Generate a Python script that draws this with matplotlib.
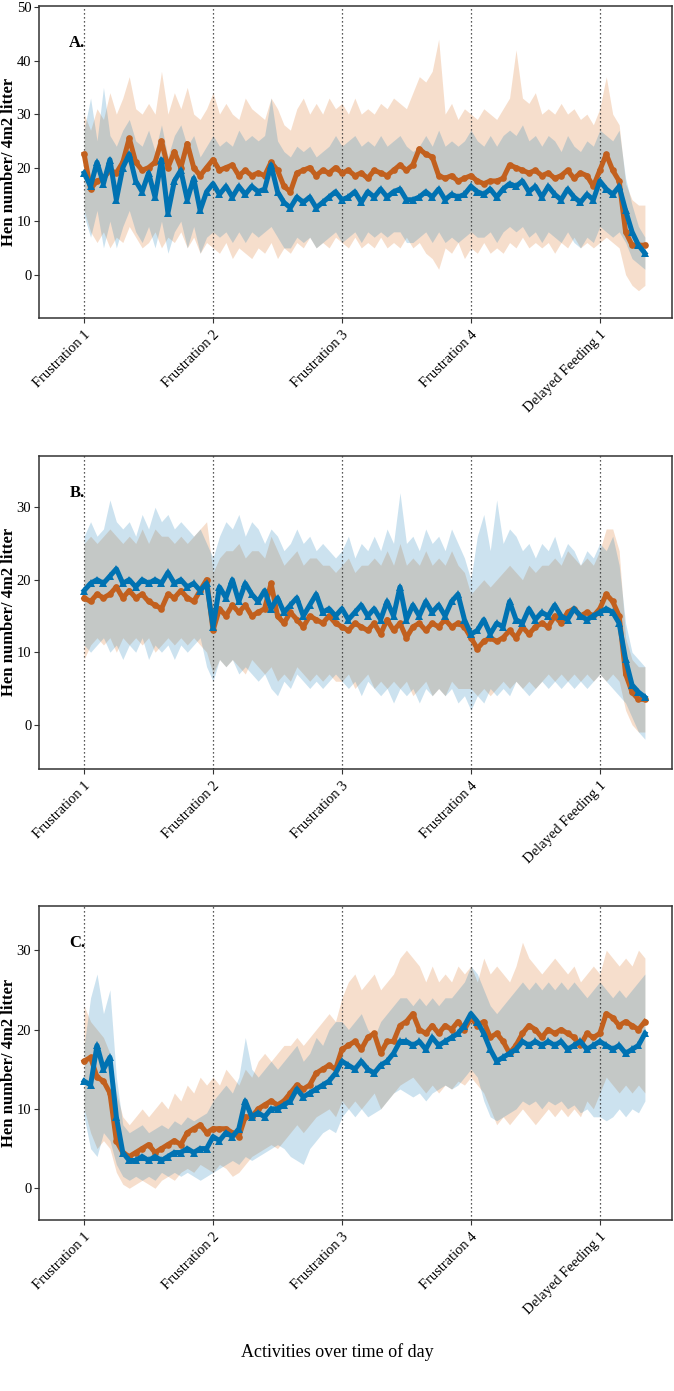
import numpy as np
import matplotlib
matplotlib.use("Agg")
import matplotlib.pyplot as plt

plt.rcParams['font.family'] = ['Liberation Serif', 'DejaVu Serif']

# ---------------- data ----------------
categories = ["Frustration 1", "Frustration 2", "Frustration 3", "Frustration 4", "Delayed Feeding 1"]
time_step = 0.05  # spacing of the sampled readings (in activity units)

# Panel A
A_or_mean = [22.5, 16, 17.5, 18, 19.5, 19, 21, 25.5, 21, 19.5, 20, 21, 25, 20, 23, 20, 24.5, 20, 18.5, 20,
             21.5, 19.5, 20, 20.5, 18.5, 19.5, 18.5, 19, 18.5, 21, 19.5, 16.5, 15.5, 19, 19.5, 20, 18.5, 19.5, 19, 20,
             19, 19.5, 18.5, 19, 18, 19.5, 19, 18.5, 19.5, 20.5, 19.5, 20.5, 23.5, 22.5, 22, 18.5, 18, 18.5, 17.5, 18,
             18.5, 17.5, 17, 17.5, 17.5, 18, 20.5, 20, 19.5, 19, 19.5, 18.5, 19, 18, 18.5, 19.5, 18, 19, 18.5, 16.5,
             19.5, 22.5, 19.5, 17.5, 8, 5.5, 5.5, 5.5]
A_or_lo = [12, 8, 6, 8, 5, 7, 6, 9, 7, 5, 6, 8, 5, 7, 6, 8, 5, 7, 4, 6,
           5, 4, 6, 3, 5, 4, 3, 5, 4, 6, 3, 5, 4, 6, 5, 7, 5, 6, 5, 7,
           6, 5, 7, 5, 6, 5, 7, 5, 6, 5, 7, 5, 6, 4, 3, 1, 5, 4, 6, 3,
           5, 4, 6, 4, 5, 4, 6, 5, 7, 5, 6, 5, 6, 4, 6, 5, 7, 5, 6, 5,
           6, 7, 6, 5, 0, -2, -3, -2]
A_or_hi = [30, 27, 31, 29, 34, 30, 33, 37, 31, 30, 32, 30, 38, 30, 34, 31, 35, 30, 29, 31,
           34, 30, 32, 30, 29, 33, 31, 30, 29, 33, 31, 28, 27, 31, 33, 30, 32, 30, 33, 31,
           32, 30, 33, 30, 31, 30, 32, 31, 33, 32, 31, 34, 37, 36, 38, 44, 30, 32, 29, 31,
           30, 29, 31, 30, 29, 31, 33, 42, 33, 32, 34, 30, 31, 30, 32, 30, 31, 29, 30, 28,
           31, 37, 30, 28, 17, 14, 13, 13]
A_bl_mean = [19, 16.5, 21, 17, 21.5, 14, 20, 22.5, 17.5, 15.5, 19, 14.5, 21.5, 11.5, 17.5, 19.5, 14, 18, 12, 15.5,
             17, 15, 16.5, 14.5, 16.5, 15, 16.5, 15.5, 16, 20.5, 15.5, 13.5, 12.5, 14.5, 13.5, 14.5, 12.5, 13.5, 14.5, 15.5,
             14, 14.5, 15.5, 13.5, 15.5, 14.5, 16, 14.5, 15.5, 16, 14, 14, 14.5, 15.5, 14.5, 16, 14, 15, 14.5, 15,
             16.5, 15.5, 15, 16, 14.5, 16, 17, 16.5, 17.5, 15.5, 16.5, 14.5, 16.5, 15, 14, 16, 14.5, 13.5, 15, 14,
             17.5, 16, 15, 16.5, 12, 8, 5.5, 4]
A_bl_lo = [11, 7, 12, 5, 10, 5, 9, 12, 8, 6, 9, 5, 10, 4, 8, 10, 5, 9, 4, 7,
           8, 7, 8, 6, 8, 6, 8, 7, 8, 9, 7, 5, 5, 7, 6, 7, 5, 6, 7, 8,
           6, 7, 8, 6, 8, 7, 8, 7, 8, 8, 6, 6, 7, 8, 6, 8, 6, 7, 6, 7,
           8, 7, 7, 8, 6, 8, 9, 8, 9, 7, 8, 6, 8, 7, 6, 8, 6, 5, 7, 6,
           9, 8, 7, 8, 6, 3, 2, 1]
A_bl_hi = [27, 33, 25, 35, 26, 24, 27, 29, 25, 24, 27, 23, 28, 22, 26, 28, 24, 26, 22, 24,
           26, 24, 25, 24, 27, 25, 26, 25, 26, 33, 25, 23, 22, 24, 23, 24, 22, 23, 24, 26,
           24, 25, 26, 24, 25, 24, 26, 24, 25, 26, 24, 23, 24, 26, 24, 27, 24, 25, 24, 25,
           27, 25, 24, 26, 24, 26, 27, 26, 28, 25, 26, 24, 26, 25, 23, 26, 24, 23, 25, 24,
           27, 26, 25, 27, 18, 13, 9, 7]

# Panel B
B_or_mean = [17.5, 17, 18, 17.5, 18, 19, 17.5, 18.5, 17.5, 18, 17, 16.5, 16, 18, 17.5, 18.5, 17.5, 17, 18.5, 20,
             13, 16, 15, 16.5, 15.5, 16.5, 15, 15.5, 16, 19.5, 15, 14, 15.5, 14.5, 13.5, 15, 14.5, 14, 15, 14,
             13.5, 13, 14, 13.5, 13, 14, 12.5, 14.5, 13, 14, 12, 13.5, 14, 13, 14, 13.5, 14.5, 13.5, 14, 13.5,
             12, 10.5, 11.5, 12, 11.5, 12, 13, 12, 13.5, 12.5, 13.5, 14, 13.5, 15, 14, 15.5, 16, 15, 15.5, 15,
             16, 18, 17, 15, 7, 4.5, 3.5, 3.5]
B_or_lo = [9, 11, 12, 11, 12, 10, 12, 11, 12, 11, 12, 10, 11, 12, 11, 12, 11, 12, 11, 10,
           7, 9, 8, 9, 8, 7, 9, 8, 7, 8, 6, 7, 6, 8, 7, 6, 7, 6, 7, 6,
           6, 7, 5, 6, 7, 5, 6, 5, 6, 5, 6, 4, 5, 6, 4, 5, 4, 6, 5, 5,
           5, 4, 5, 4, 5, 6, 5, 6, 5, 6, 5, 6, 7, 6, 7, 6, 7, 6, 7, 6,
           7, 6, 7, 6, 2, 0, -1, -1]
B_or_hi = [25, 26, 25, 26, 27, 26, 25, 26, 25, 27, 25, 27, 26, 26, 25, 26, 25, 26, 27, 28,
           21, 23, 24, 24, 25, 23, 24, 24, 23, 26, 24, 22, 23, 24, 22, 23, 23, 22, 22, 21,
           22, 23, 21, 22, 22, 23, 22, 24, 22, 25, 22, 23, 22, 24, 22, 23, 22, 24, 22, 21,
           18, 19, 20, 19, 20, 21, 22, 21, 20, 22, 21, 22, 22, 23, 22, 24, 23, 22, 23, 22,
           24, 27, 27, 24, 12, 9, 8, 8]
B_bl_mean = [18.5, 19.5, 20, 19.5, 20.5, 21.5, 19.5, 20, 19, 20, 19.5, 20, 19.5, 21, 19.5, 20, 19, 19.5, 18.5, 19.5,
             13.5, 19, 17.5, 20, 17, 19.5, 18, 17, 18.5, 16, 17.5, 15.5, 16.5, 17.5, 15, 16.5, 18, 15.5, 16, 15,
             16, 14.5, 15.5, 16.5, 15, 16, 14.5, 17, 15, 19, 14.5, 16.5, 15, 17, 15.5, 16.5, 15, 17, 18, 14.5,
             12.5, 13, 14.5, 12.5, 14, 13.5, 17, 14.5, 14, 16, 14.5, 15.5, 15, 16.5, 15, 14.5, 16, 15, 14.5, 15,
             15.5, 16, 15.5, 14, 9, 5.5, 4.5, 3.8]
B_bl_lo = [11, 10, 11, 12, 10, 11, 9, 11, 10, 12, 9, 11, 10, 11, 9, 11, 10, 11, 12, 8,
           6, 9, 8, 9, 7, 8, 7, 6, 7, 5, 4, 6, 5, 7, 6, 5, 6, 5, 6, 7,
           6, 5, 6, 4, 6, 5, 4, 5, 3, 5, 4, 5, 3, 5, 4, 5, 4, 5, 3, 4,
           2, 4, 3, 5, 4, 5, 4, 6, 5, 4, 5, 6, 5, 6, 5, 6, 5, 6, 5, 6,
           7, 6, 5, 4, 3, 1, -1, -2]
B_bl_hi = [26, 28, 26, 27, 31, 28, 27, 28, 26, 29, 27, 30, 28, 29, 27, 28, 27, 26, 27, 25,
           23, 26, 28, 27, 29, 26, 28, 27, 25, 27, 26, 24, 25, 27, 25, 26, 24, 25, 24, 23,
           24, 26, 23, 25, 24, 26, 24, 27, 25, 32, 25, 26, 24, 27, 25, 26, 24, 27, 25, 23,
           20, 26, 29, 24, 31, 25, 27, 26, 24, 25, 23, 25, 24, 26, 23, 25, 24, 22, 24, 23,
           25, 24, 26, 22, 14, 10, 9, 8]

# Panel C
C_or_mean = [16, 16.5, 14, 13.5, 12, 6, 4.5, 4, 4.5, 5, 5.5, 4.5, 5, 5.5, 6, 5.5, 7, 7.5, 8, 7,
             7.5, 7.5, 7.5, 7, 6.5, 9, 9, 10, 10.5, 11, 10.5, 11, 12, 13, 12.5, 13, 14.5, 15, 15.5, 15,
             17.5, 18, 18.5, 17.5, 19, 19.5, 17, 18.5, 18.5, 20.5, 21, 22, 20, 19.5, 20.5, 19.5, 20.5, 20, 21, 20,
             21.5, 20.5, 21, 19, 19.5, 18.5, 17, 18, 19.5, 20.5, 20, 19, 20, 19.5, 20, 19.5, 19, 18, 19.5, 19,
             19.5, 22, 21.5, 20.5, 21, 20.5, 20, 21]
C_or_lo = [10, 7, 5, 6, 5, 2, 0.5, 0, 0.5, 1, 0.5, 0, 1, 1.5, 1, 2, 2.5, 2, 3, 2.5,
           2, 3, 2.5, 1.5, 2, 3, 4, 4.5, 5, 5.5, 5, 6, 7, 8, 7, 8, 9, 9.5, 10, 9,
           11, 10, 11, 10, 11, 12, 10, 11, 12, 13, 13.5, 14, 13, 12, 13, 12, 13, 12.5, 13.5, 13,
           14, 13, 12, 10, 8, 9, 8, 9, 10, 9, 8, 9, 10, 9, 10, 9, 10, 9, 11, 10,
           12, 14, 13, 12, 13, 12, 13, 12]
C_or_hi = [23, 21, 20, 19, 17, 12, 9, 8, 9, 10, 9, 10, 11, 10, 12, 11, 13, 12, 14, 13,
           14, 13, 15, 14, 13, 15, 14, 16, 17, 16, 17, 18, 18, 19, 18, 19, 20, 21, 22, 21,
           24, 26, 27, 25, 26, 27, 25, 26, 27, 29, 30, 29, 28, 26, 28, 26, 27, 26, 28, 27,
           28, 26, 29, 27, 28, 27, 26, 28, 31, 29, 28, 27, 28, 29, 28, 27, 28, 26, 27, 28,
           27, 30, 29, 28, 29, 28, 30, 29]
C_bl_mean = [13.5, 13, 18, 15, 16.5, 9, 4.5, 3.5, 3.5, 4, 3.5, 4, 3.5, 4, 4.5, 4.5, 5, 4.5, 5, 5,
             6.5, 6, 7, 6.5, 7.5, 11, 9, 9.5, 9, 10, 10, 10.5, 11, 12.5, 11.5, 12, 12.5, 13, 13.5, 14.5,
             16, 15.5, 15, 16, 15, 14.5, 15.5, 16, 17, 18.5, 18.5, 18, 18.5, 17.5, 19, 18, 18.5, 19, 19.5, 20.5,
             22, 21, 19.5, 17.5, 16, 16.5, 17, 17.5, 18.5, 18, 18.5, 18, 18.5, 18, 18.5, 17.5, 18, 18.5, 17.5, 18,
             18.5, 18, 17.5, 18, 17, 17.5, 18, 19.5]
C_bl_lo = [9, 5, 4, 7, 6, 3, 1.5, 1, 1.5, 1, 1.5, 1, 2, 1.5, 2, 1.5, 2, 1.5, 1, 1.5,
           2, 2.5, 3, 3.5, 3, 4, 3.5, 4, 4.5, 5, 5.5, 5, 4, 3.5, 3, 5, 6, 7, 7.5, 7,
           9, 10, 9, 10, 9, 9.5, 10, 11, 12, 12.5, 12, 11.5, 12, 11, 12, 12.5, 13, 12.5, 13, 14,
           15, 14, 11, 9, 8.5, 9, 9.5, 10, 11, 10.5, 11, 10, 11, 10.5, 11, 10, 10.5, 9.5, 10, 9,
           9, 8.5, 9, 10, 9, 10, 9.5, 11]
C_bl_hi = [18, 24, 27, 22, 25, 14, 8, 7, 7.5, 8, 7, 7.5, 8, 7.5, 8.5, 8, 9, 8.5, 9, 9.5,
           11, 12, 13, 12, 14, 19, 15, 14, 15, 16, 15, 16, 17, 18, 16, 17, 19, 18, 20, 21,
           21, 20, 21, 22, 20, 19, 21, 22, 23, 24, 24, 23, 24, 23, 24, 23, 24, 24, 25, 26,
           28, 27, 25, 23, 22, 23, 24, 25, 26, 25, 26, 25, 26, 25, 26, 25, 26, 25, 24, 25,
           26, 25, 24, 25, 24, 25, 26, 27]

panels = [
    dict(tag="A.", ylim=(-8.1, 50.2), yticks=[0, 10, 20, 30, 40, 50],
         om=A_or_mean, olo=A_or_lo, ohi=A_or_hi, bm=A_bl_mean, blo=A_bl_lo, bhi=A_bl_hi),
    dict(tag="B.", ylim=(-6.1, 37.1), yticks=[0, 10, 20, 30],
         om=B_or_mean, olo=B_or_lo, ohi=B_or_hi, bm=B_bl_mean, blo=B_bl_lo, bhi=B_bl_hi),
    dict(tag="C.", ylim=(-4.0, 35.6), yticks=[0, 10, 20, 30],
         om=C_or_mean, olo=C_or_lo, ohi=C_or_hi, bm=C_bl_mean, blo=C_bl_lo, bhi=C_bl_hi),
]

# ---------------- styling ----------------
W, H = 674, 1391
fig = plt.figure(figsize=(W / 100, H / 100), dpi=100)

OR_FILL = "#D55E00"
BL_FILL = "#0072B2"
OR_PT = "#C2601E"
BL_PT = "#0072B2"
SPINE = "#333333"

axes_px = [(6, 318), (455.7, 769), (905.7, 1220)]
left_px, right_px = 39, 672


def series_xy(arr):
    y = np.asarray(arr, float)
    return np.arange(len(y)) * time_step, y


def band_xy(lo, hi):
    n = min(len(lo), len(hi))
    return np.arange(n) * time_step, np.asarray(lo[:n], float), np.asarray(hi[:n], float)


for p, (top, bot) in zip(panels, axes_px):
    ax = fig.add_axes([left_px / W, 1 - bot / H, (right_px - left_px) / W, (bot - top) / H])

    xx, lo, hi = band_xy(p["olo"], p["ohi"])
    ax.fill_between(xx, lo, hi, color=OR_FILL, alpha=0.2, lw=0, zorder=1)
    xx, lo, hi = band_xy(p["blo"], p["bhi"])
    ax.fill_between(xx, lo, hi, color=BL_FILL, alpha=0.2, lw=0, zorder=2)

    for k in range(len(categories)):
        ax.axvline(k, color="#222222", ls=(0, (1, 2.2)), lw=0.9, zorder=3)

    x, y = series_xy(p["om"])
    ax.plot(x, y, color=OR_PT, lw=3.6, zorder=4, solid_joinstyle="round")
    ax.plot(x, y, ls="none", marker="o", ms=4.8, color=OR_PT, mew=0, zorder=5)
    x, y = series_xy(p["bm"])
    ax.plot(x, y, color=BL_PT, lw=3.6, zorder=6, solid_joinstyle="round")
    ax.plot(x, y, ls="none", marker="^", ms=5.6, color=BL_PT, mew=0, zorder=7)

    ax.set_xlim(-0.35, 4.56)
    ax.set_ylim(*p["ylim"])
    ax.set_yticks(p["yticks"])
    ax.set_yticklabels([str(v) for v in p["yticks"]], fontsize=10.5)
    ax.set_xticks(range(len(categories)))
    ax.set_xticklabels(categories, rotation=45, ha="right", va="top",
                       rotation_mode="anchor", fontsize=10.5)
    ax.tick_params(axis="both", direction="out", length=3.5, width=0.8, color=SPINE, pad=2)
    ax.tick_params(axis="x", pad=4)
    for s in ax.spines.values():
        s.set_color(SPINE)
        s.set_linewidth(1.1)
    ax.text(0.073, 0.88, p["tag"], transform=ax.transAxes, ha="right", va="center",
            fontsize=12, fontweight="bold")
    # y axis title, centred on the panel
    fig.text(9 / W, 1 - (top + bot) / 2 / H, "Hen number/ 4m2 litter", rotation=90,
             ha="center", va="center", fontsize=12, fontweight="bold")

fig.text(0.5, 1 - 1352 / H, "Activities over time of day", ha="center", va="center", fontsize=13)

fig.savefig("out.png", dpi=100)
